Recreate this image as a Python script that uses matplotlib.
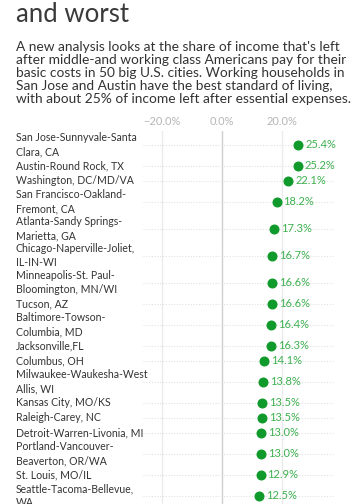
import matplotlib
matplotlib.use("Agg")
import matplotlib.pyplot as plt
from matplotlib.transforms import blended_transform_factory

cities = [
    "San Jose-Sunnyvale-Santa\nClara, CA",
    "Austin-Round Rock, TX",
    "Washington, DC/MD/VA",
    "San Francisco-Oakland-\nFremont, CA",
    "Atlanta-Sandy Springs-\nMarietta, GA",
    "Chicago-Naperville-Joliet,\nIL-IN-WI",
    "Minneapolis-St. Paul-\nBloomington, MN/WI",
    "Tucson, AZ",
    "Baltimore-Towson-\nColumbia, MD",
    "Jacksonville,FL",
    "Columbus, OH",
    "Milwaukee-Waukesha-West\nAllis, WI",
    "Kansas City, MO/KS",
    "Raleigh-Carey, NC",
    "Detroit-Warren-Livonia, MI",
    "Portland-Vancouver-\nBeaverton, OR/WA",
    "St. Louis, MO/IL",
    "Seattle-Tacoma-Bellevue,\nWA",
]
share_left = [25.4, 25.2, 22.1, 18.2, 17.3, 16.7, 16.6, 16.6, 16.4, 16.3,
              14.1, 13.8, 13.5, 13.5, 13.0, 13.0, 12.9, 12.5]
x_ticks = [-20, 0, 20]

title_text = "and worst"
subtitle = ("A new analysis looks at the share of income that's left\n"
            "after middle-and working class Americans pay for their\n"
            "basic costs in 50 big U.S. cities. Working households in\n"
            "San Jose and Austin have the best standard of living,\n"
            "with about 25% of income left after essential expenses.")

FONT = ["Lato", "DejaVu Sans"]
plt.rcParams["font.family"] = FONT

W, H = 360, 504
fig = plt.figure(figsize=(W / 100, H / 100), dpi=100)

def fy(px):
    return 1 - px / H

# title & subtitle
fig.text(16 / W, fy(22), title_text, fontsize=18.5, color="#3a3a3a",
         ha="left", va="baseline", fontweight="normal")
fig.text(16 / W, fy(41), subtitle, fontsize=9.9, color="#333333",
         ha="left", va="top", linespacing=1.1)

# row layout (height depends on number of label lines)
row_h = {1: 15, 2: 27}
centers = []
pos = 0
for c in cities:
    h = row_h[c.count("\n") + 1]
    centers.append(pos + h / 2)
    pos += h

ax_top = 131
ax = fig.add_axes([143 / W, 0, (335 - 143) / W, (H - ax_top) / H])
ax.set_xlim(-26.3, 37.7)
ax.set_ylim(H - ax_top, 0)
for s in ax.spines.values():
    s.set_visible(False)
ax.set_yticks([])
ax.xaxis.tick_top()
ax.set_xticks(x_ticks)
ax.set_xticklabels([f"{t:.1f}%".replace("-", "\u2212") for t in x_ticks])
ax.tick_params(axis="x", length=0, pad=3, labelsize=8, labelcolor="#b5b5b5")
for t in x_ticks:
    ax.axvline(t, color="#cfcfcf" if t == 0 else "#ebebeb",
               lw=1.0, zorder=0)
for y in centers:
    ax.axhline(y, color="#e2e2e2", lw=0.8, ls=(0, (1, 1.5)), zorder=0)

ax.plot(share_left, centers, "o", color="#119a2c", ms=6.2, zorder=3,
        clip_on=False)
for v, y in zip(share_left, centers):
    ax.annotate(f"{v:.1f}%", (v, y), xytext=(5, 0),
                textcoords="offset points", va="center", ha="left",
                fontsize=8, color="#3db04f")

tr = blended_transform_factory(fig.transFigure, ax.transData)
for c, y in zip(cities, centers):
    ax.text(16 / W, y, c, transform=tr, ha="left", va="center",
            fontsize=7.6, color="#333333", linespacing=1.35)

fig.savefig("out.png", dpi=100)
